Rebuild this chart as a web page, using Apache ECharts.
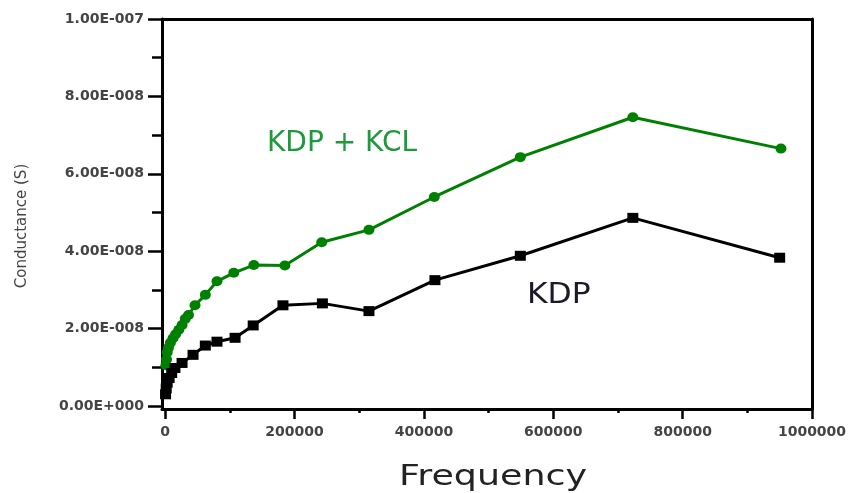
<!DOCTYPE html>
<html>
<head>
<meta charset="utf-8">
<script src="https://cdn.jsdelivr.net/npm/echarts@6/dist/echarts.min.js"></script>
<style>
html,body{margin:0;padding:0;background:#fff;}
#chart{width:851px;height:493px;}
</style>
</head>
<body>
<div id="chart"></div>
<script>
// Data (frequency in Hz, conductance in S)
const kdpKclFreq = [1000, 2000, 3000, 5000, 8000, 12000, 16000, 21000, 26000, 31000, 36000, 46000, 62000, 80000, 106000, 137000, 185000, 242000, 315000, 416000, 549000, 723000, 952000];
const kdpKclCond = [1.05e-8, 1.2e-8, 1.38e-8, 1.5e-8, 1.63e-8, 1.75e-8, 1.85e-8, 1.97e-8, 2.09e-8, 2.25e-8, 2.35e-8, 2.6e-8, 2.87e-8, 3.22e-8, 3.44e-8, 3.64e-8, 3.63e-8, 4.23e-8, 4.55e-8, 5.4e-8, 6.43e-8, 7.46e-8, 6.65e-8];
const kdpFreq = [500, 1500, 3000, 6000, 10000, 15000, 26000, 43000, 62000, 80000, 108000, 136000, 182000, 243000, 315000, 417000, 549000, 723000, 950000];
const kdpCond = [0.3e-8, 0.45e-8, 0.6e-8, 0.72e-8, 0.85e-8, 0.98e-8, 1.11e-8, 1.32e-8, 1.56e-8, 1.66e-8, 1.76e-8, 2.08e-8, 2.6e-8, 2.65e-8, 2.45e-8, 3.25e-8, 3.88e-8, 4.86e-8, 3.83e-8];
const xMajorTicks = [0, 200000, 400000, 600000, 800000, 1000000];
const xMinorTicks = [100000, 300000, 500000, 700000, 900000];
const yMajorTicks = [0, 2e-8, 4e-8, 6e-8, 8e-8, 1e-7];
const yMinorTicks = [1e-8, 3e-8, 5e-8, 7e-8, 9e-8];
const yTickLabels = ['0.00E+000', '2.00E-008', '4.00E-008', '6.00E-008', '8.00E-008', '1.00E-007'];
const xTickLabels = ['0', '200000', '400000', '600000', '800000', '1000000'];

const X_MIN = -5000, X_MAX = 1000000, Y_MIN = -8e-10, Y_MAX = 1e-7;

function pairs(xs, ys){ return xs.map((x,i)=>[x, ys[i]]); }
function fmtY(v){
  const i = yMajorTicks.findIndex(t => Math.abs(t - v) < 1e-12);
  return i >= 0 ? yTickLabels[i] : '';
}
function fmtX(v){
  const i = xMajorTicks.indexOf(v);
  return i >= 0 ? xTickLabels[i] : '';
}

const lineStyle = {color:'#000', width:3};
const labelFont = {fontFamily:'DejaVu Sans', fontWeight:'bold', fontSize:14, color:'#444'};

const chart = echarts.init(document.getElementById('chart'), null, {renderer:'canvas'});
chart.setOption({
  animation:false,
  backgroundColor:'#fff',
  grid:{left:162, right:39, top:19, bottom:84, containLabel:false},
  xAxis:[
    {type:'value', position:'bottom', min:X_MIN, max:X_MAX,
      axisLine:{show:true, onZero:false, lineStyle},
      axisTick:{show:true, inside:false, length:10, customValues:xMajorTicks, lineStyle:{color:'#000', width:2.5}},
      axisLabel:Object.assign({show:true, margin:16, customValues:xMajorTicks, formatter:fmtX}, labelFont),
      splitLine:{show:false}},
    {type:'value', position:'bottom', min:X_MIN, max:X_MAX,
      axisLine:{show:false, onZero:false},
      axisTick:{show:true, inside:false, length:4, customValues:xMinorTicks, lineStyle:{color:'#000', width:2.5}},
      axisLabel:{show:false}, splitLine:{show:false}},
    {type:'value', position:'top', min:X_MIN, max:X_MAX,
      axisLine:{show:true, onZero:false, lineStyle},
      axisTick:{show:false}, axisLabel:{show:false}, splitLine:{show:false}}
  ],
  yAxis:[
    {type:'value', position:'left', min:Y_MIN, max:Y_MAX,
      axisLine:{show:true, onZero:false, lineStyle},
      axisTick:{show:true, inside:false, length:14, customValues:yMajorTicks, lineStyle:{color:'#000', width:2.5}},
      axisLabel:Object.assign({show:true, margin:18, customValues:yMajorTicks, formatter:fmtY}, labelFont),
      splitLine:{show:false}},
    {type:'value', position:'left', min:Y_MIN, max:Y_MAX,
      axisLine:{show:false, onZero:false},
      axisTick:{show:true, inside:false, length:10, customValues:yMinorTicks, lineStyle:{color:'#000', width:2.5}},
      axisLabel:{show:false}, splitLine:{show:false}},
    {type:'value', position:'right', min:Y_MIN, max:Y_MAX,
      axisLine:{show:true, onZero:false, lineStyle},
      axisTick:{show:false}, axisLabel:{show:false}, splitLine:{show:false}}
  ],
  series:[
    {name:'KDP + KCL', type:'line', xAxisIndex:0, yAxisIndex:0,
      data:pairs(kdpKclFreq, kdpKclCond),
      symbol:'circle', symbolSize:[11,10], showSymbol:true,
      lineStyle:{color:'#008000', width:3}, itemStyle:{color:'#008000'}},
    {name:'KDP', type:'line', xAxisIndex:0, yAxisIndex:0,
      data:pairs(kdpFreq, kdpCond),
      symbol:'rect', symbolSize:[11,10], showSymbol:true,
      lineStyle:{color:'#000', width:3}, itemStyle:{color:'#000'}}
  ],
  graphic:[
    {type:'text', x:267, y:144, style:{text:'KDP + KCL', fill:'#1e9a3c', font:'28px "DejaVu Sans"', align:'left', verticalAlign:'middle'}},
    {type:'text', x:527, y:296, scaleX:1.12, style:{text:'KDP', fill:'#1a1a2a', font:'28px "DejaVu Sans"', align:'left', verticalAlign:'middle'}},
    {type:'text', x:493, y:478, scaleX:1.3, style:{text:'Frequency', fill:'#222', font:'28px "DejaVu Sans"', align:'center', verticalAlign:'middle'}},
    {type:'text', x:22, y:226, rotation:Math.PI/2, style:{text:'Conductance (S)', fill:'#444', font:'15px "DejaVu Sans"', align:'center', verticalAlign:'middle'}}
  ]
});
</script>
</body>
</html>
